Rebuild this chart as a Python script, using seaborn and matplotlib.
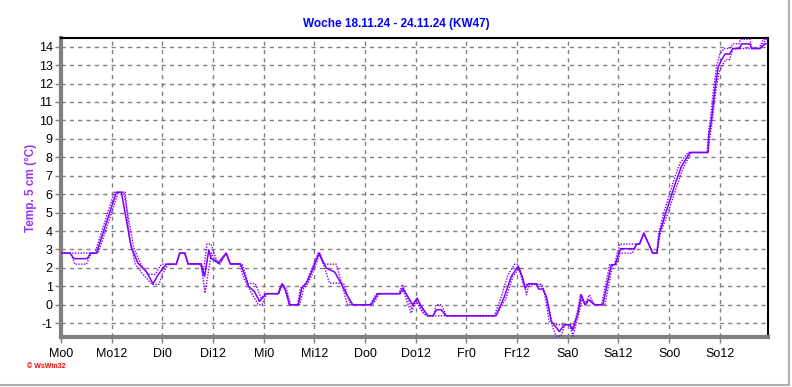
import pandas as pd
import matplotlib
matplotlib.use("Agg")
import matplotlib.pyplot as plt
import seaborn as sns
from matplotlib.lines import Line2D

# Stunden ab Montag 0 Uhr
mittel_h = [0, 2.1, 3.1, 6.2, 7.0, 8.4, 13.1, 14.3, 16.6, 18.2, 20.2, 21.8, 23.0, 24.9,
            27.3, 28.1, 29.3, 30.1, 33.2, 34.0, 35.0, 35.5, 37.2, 39.1, 40.1, 42.5, 43.5,
            44.4, 45.8, 47.0, 48.6, 51.4, 52.3, 53.1, 54.1, 56.2, 57.0, 58.1, 59.2, 61.1,
            62.8, 64.8, 66.3, 67.9, 69.1, 73.4, 75.0, 80.2, 80.9, 82.1, 83.3, 84.3, 85.3,
            86.9, 88.1, 88.9, 90.0, 91.2, 103.0, 105.0, 106.6, 108.2, 109.3, 109.9, 110.7,
            112.5, 113.1, 114.1, 114.9, 116.1, 118.0, 119.2, 120.4, 121.2, 122.4, 123.2,
            124.1, 124.9, 126.3, 128.3, 130.3, 131.2, 132.5, 135.8, 136.3, 137.0, 138.0,
            140.1, 141.1, 141.7, 143.3, 145.6, 146.9, 148.9, 153.2, 153.4, 154.0, 154.8,
            155.6, 156.4, 157.2, 158.3, 159.1, 160.7, 161.1, 163.1, 163.5, 165.5, 166.7, 167.4]
mittel_t = [2.8, 2.8, 2.5, 2.5, 2.8, 2.8, 6.1, 6.1, 3.16, 2.26, 1.8, 1.14, 1.63, 2.2,
            2.2, 2.8, 2.8, 2.22, 2.22, 1.53, 2.98, 2.53, 2.26, 2.8, 2.22, 2.22, 1.63,
            1.0, 0.72, 0.18, 0.6, 0.6, 1.12, 0.81, 0.0, 0.0, 0.9, 1.17, 1.72, 2.8,
            1.99, 1.77, 1.17, 0.45, 0.0, 0.0, 0.6, 0.6, 0.9, 0.45, 0.0, 0.36, -0.09,
            -0.6, -0.6, -0.27, -0.27, -0.6, -0.6, 0.45, 1.53, 2.08, 1.45, 0.9, 1.14,
            1.14, 0.85, 0.85, 0.45, -0.9, -1.45, -1.08, -1.08, -1.36, -0.45, 0.54,
            0.0, 0.27, 0.0, 0.0, 2.17, 2.17, 3.04, 3.04, 3.29, 3.29, 3.88,
            2.8, 2.8, 3.88, 5.06, 6.68, 7.5, 8.26, 8.26, 9.2, 10.0, 11.65,
            12.9, 13.28, 13.6, 13.6, 13.9, 13.9, 14.15, 14.15, 13.9, 13.9, 14.15, 14.15]

max_h = [0, 8.0, 12.6, 14.9, 17.2, 18.9, 20.6, 22.3, 23.8, 27.3, 28.1, 29.3, 30.1, 33.0,
         33.6, 34.6, 35.5, 36.7, 37.4, 39.1, 40.1, 42.9, 44.3, 46.0, 47.4, 48.4, 51.4,
         52.3, 53.3, 54.4, 56.0, 56.7, 58.0, 59.0, 60.9, 62.2, 65.2, 67.8, 73.2, 74.7,
         80.0, 80.8, 82.2, 83.0, 84.2, 85.0, 86.5, 88.3, 88.8, 90.1, 91.2, 102.6, 104.2,
         105.8, 107.4, 108.2, 109.4, 113.6, 114.5, 115.6, 116.5, 120.6, 121.0, 122.2,
         123.0, 124.0, 125.1, 126.2, 128.0, 129.9, 131.0, 132.3, 137.0, 138.0, 140.1,
         141.1, 141.5, 143.0, 145.3, 146.6, 148.5, 153.0, 153.3, 153.8, 154.6, 155.3,
         156.0, 157.0, 158.3, 159.1, 160.5, 160.9, 163.1, 163.6, 165.3, 166.3, 167.4]
max_t = [2.8, 2.8, 6.1, 6.1, 3.1, 2.2, 1.65, 1.65, 2.2, 2.2, 2.8, 2.8, 2.2, 2.2,
         1.65, 3.3, 3.3, 2.5, 2.2, 2.8, 2.2, 2.2, 1.15, 1.15, 0.36, 0.6, 0.6,
         1.14, 0.9, 0.0, 0.0, 0.9, 1.17, 1.72, 2.8, 2.2, 2.2, 0.0, 0.0, 0.6,
         0.6, 1.1, 0.3, -0.2, 0.3, -0.1, -0.6, -0.6, 0.0, 0.0, -0.6, -0.6, 0.4,
         1.6, 2.2, 2.2, 1.1, 1.1, 0.6, -0.9, -1.08, -1.08, -1.36, -0.45,
         0.54, 0.0, 0.54, 0.0, 0.0, 2.17, 2.17, 3.29, 3.29, 3.88, 2.8,
         2.8, 3.88, 5.2, 6.9, 7.7, 8.26, 8.26, 9.3, 10.2, 11.9, 13.0,
         13.6, 13.9, 13.9, 14.15, 14.15, 14.4, 14.4, 13.9, 13.9, 14.4, 14.4]

min_h = [0, 2.3, 3.3, 6.0, 7.2, 8.8, 13.6, 15.2, 16.2, 17.6, 19.4, 21.6, 23.2, 24.0, 25.4,
         27.3, 28.1, 29.3, 30.1, 33.2, 34.1, 34.8, 35.6, 36.3, 37.6, 39.1, 40.1, 42.3,
         43.3, 44.5, 45.2, 46.7, 47.6, 48.6, 51.6, 52.5, 53.5, 54.1, 56.5, 57.5, 58.5,
         59.6, 61.3, 63.6, 66.9, 68.6, 73.8, 75.4, 80.4, 81.0, 82.2, 82.9, 84.0, 85.7,
         86.6, 102.9, 105.3, 107.0, 108.6, 109.5, 110.2, 110.8, 113.9, 115.3, 116.4,
         117.2, 118.4, 119.3, 120.4, 121.2, 122.6, 123.4, 124.3, 125.1, 126.5, 128.8,
         130.6, 131.5, 132.4, 135.3, 136.3, 137.0, 138.0, 140.1, 141.1, 141.9, 143.6,
         145.9, 147.3, 149.2, 153.2, 153.6, 154.2, 155.0, 155.8, 156.6, 157.4, 158.3,
         159.1, 165.5, 167.0, 167.4]
min_t = [2.8, 2.8, 2.2, 2.2, 2.8, 2.8, 6.1, 6.1, 3.6, 2.2, 1.65, 1.1, 1.1, 1.65, 2.2,
         2.2, 2.8, 2.8, 2.2, 2.2, 0.63, 1.65, 2.8, 2.5, 2.2, 2.8, 2.2, 2.2,
         1.4, 0.9, 0.6, 0.0, 0.0, 0.6, 0.6, 1.14, 0.6, 0.0, 0.0, 0.9, 1.17,
         1.72, 2.8, 1.17, 1.17, 0.0, 0.0, 0.6, 0.6, 0.8, 0.0, -0.45, 0.2, -0.45,
         -0.6, -0.6, 0.3, 1.53, 2.0, 1.3, 0.54, 1.1, 1.1, 0.1, -1.2,
         -1.7, -1.7, -1.08, -1.08, -1.7, -0.5, 0.3, 0.0, 0.3, 0.0, 0.0,
         2.17, 2.17, 2.8, 2.8, 3.29, 3.29, 3.88, 2.8, 2.8, 3.88, 4.9,
         6.5, 7.4, 8.26, 8.26, 9.0, 10.0, 11.5, 12.6, 13.0, 13.3, 13.3,
         13.9, 13.9, 14.4, 14.4]

tick_h = [0, 12, 24, 36, 48, 60, 72, 84, 96, 108, 120, 132, 144, 156]
tick_labels = ["Mo0", "Mo12", "Di0", "Di12", "Mi0", "Mi12", "Do0", "Do12",
               "Fr0", "Fr12", "Sa0", "Sa12", "So0", "So12"]

sns.set_style("white")
plt.rcParams['font.family'] = ['Liberation Sans', 'DejaVu Sans']
plt.rcParams['axes.unicode_minus'] = False

violett = '#8000ff'
grau = '#808080'

fig = plt.figure(figsize=(7.92, 3.87), dpi=100)
ax = fig.add_axes([61 / 792, 1 - 337 / 387, 707 / 792, 299 / 387])

df_mittel = pd.DataFrame({'h': mittel_h, 'T': mittel_t})
df_max = pd.DataFrame({'h': max_h, 'T': max_t})
df_min = pd.DataFrame({'h': min_h, 'T': min_t})

# Max/Min gepunktet, Mittelwert durchgezogen
sns.lineplot(data=df_max, x='h', y='T', ax=ax, color=violett, linewidth=1.0,
             linestyle=(0, (1, 1)), zorder=3)
sns.lineplot(data=df_min, x='h', y='T', ax=ax, color=violett, linewidth=1.0,
             linestyle=(0, (1, 1)), zorder=3)
sns.lineplot(data=df_mittel, x='h', y='T', ax=ax, color=violett, linewidth=1.1, zorder=4)

ax.set_xlim(0, 167.4)
ax.set_ylim(-1.75, 14.47)
ax.set_xticks(tick_h)
ax.set_xticklabels(tick_labels)
ax.set_xticks(range(0, 168, 3), minor=True)
ax.set_yticks(range(-1, 15))
ax.set_yticks([v / 2 for v in range(-3, 29)], minor=True)

ax.grid(True, which='major', color=grau, linestyle=(0, (3, 3)), linewidth=1)
ax.tick_params(axis='both', which='major', length=4, width=1, color=grau,
               labelsize=9, labelcolor='black', direction='out')
ax.tick_params(axis='both', which='minor', length=2, width=1, color=grau, direction='out')
ax.tick_params(axis='y', pad=2, left=True)
ax.tick_params(axis='x', pad=4, bottom=True)

for s in ['left', 'bottom']:
    ax.spines[s].set_color(grau)
    ax.spines[s].set_linewidth(3)
for s in ['top', 'right']:
    ax.spines[s].set_color('black')
    ax.spines[s].set_linewidth(1.5)

ax.set_xlabel('')
ax.set_ylabel('Temp. 5 cm (°C)', color='#9933ff', fontsize=8.5, fontweight='bold')
ax.yaxis.set_label_coords(-0.034, 0.5)

fig.text(0.5, 1 - 24 / 387, 'Woche 18.11.24 - 24.11.24 (KW47)', color='#0000ff',
         fontsize=8.5, fontweight='bold', ha='center', va='center')
fig.text(27 / 792, 1 - 367 / 387, '© WsWin32', color='red', fontsize=5,
         fontweight='bold', ha='left', va='center')

# heller Rahmen rechts und unten
fig.add_artist(Line2D([789 / 792, 789 / 792], [2 / 387, 1], color='#b0b0b0', linewidth=1.5))
fig.add_artist(Line2D([0, 789 / 792], [2 / 387, 2 / 387], color='#b0b0b0', linewidth=1.5))

plt.savefig('out.png', dpi=100)
plt.close()
